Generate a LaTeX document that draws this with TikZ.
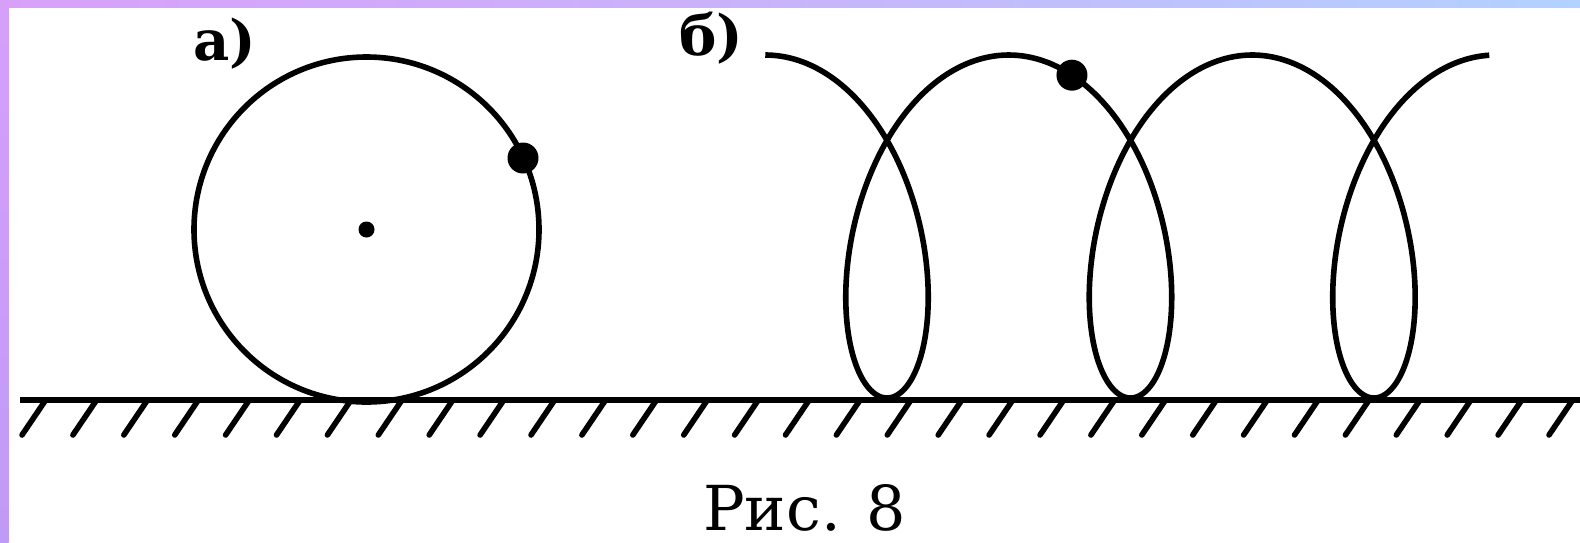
\documentclass[tikz,border=0pt]{standalone}
\usepackage{fontspec}
\setmainfont{DejaVu Serif}
\usetikzlibrary{calc}
\definecolor{bandL}{HTML}{D9A0FA}
\definecolor{bandM}{HTML}{C8B4FA}
\definecolor{bandR}{HTML}{B2D2FF}
\definecolor{sideT}{HTML}{D6A0FA}
\definecolor{sideB}{HTML}{C09AF8}
\begin{document}
\begin{tikzpicture}[x=1pt,y=-1pt,
  curve/.style={line width=5.6pt, line join=round},
  hatchline/.style={line width=5.6pt, line cap=round},
  lbl/.style={font=\bfseries\fontsize{56}{60}\selectfont, inner sep=0pt},
  capt/.style={font=\fontsize{62}{66}\selectfont, inner sep=0pt}]
\fill[white] (0,0) rectangle (1580,542);
\useasboundingbox (0,0) rectangle (1580,542);
\shade[left color=bandL, right color=bandR, middle color=bandM] (0,0) rectangle (1580,7.5);
\shade[top color=sideT, bottom color=sideB] (0,0) rectangle (8.5,542);
% ground
\coordinate (gL) at (20,400);
\coordinate (gR) at (1580,400);
\draw[curve] (gL) -- (gR);
\foreach \k in {0,...,30} \draw[hatchline] ({45+50.9*\k},401) -- ({22+50.9*\k},435);
% a) wheel
\coordinate (ca) at (366.5,229.5);
\draw[curve] (ca) circle[radius=172.5];
\fill (ca) circle[radius=8];
\coordinate (pa) at ($(ca)+(156.5,-71.5)$);
\fill (pa) circle[radius=15.5];
% b) trajectory
\draw[curve] plot[domain=-pi:4.985*pi, samples=600, variable=\t, smooth]
  ({887+38.75*\t-94*sin(\t r)},{226.5+171.5*cos(\t r)});
\coordinate (pb) at ({887+38.75*3.6316-94*sin(3.6316 r)},{226.5+171.5*cos(3.6316 r)});
\fill (pb) circle[radius=15.5];
% labels
\node[lbl, anchor=base west] (la) at (193,60) {а)};
\node[lbl, anchor=base west] (lb) at (679,55) {б)};
\node[capt, anchor=base west] (cap) at (703,530) {Рис. 8};
\end{tikzpicture}
\end{document}
